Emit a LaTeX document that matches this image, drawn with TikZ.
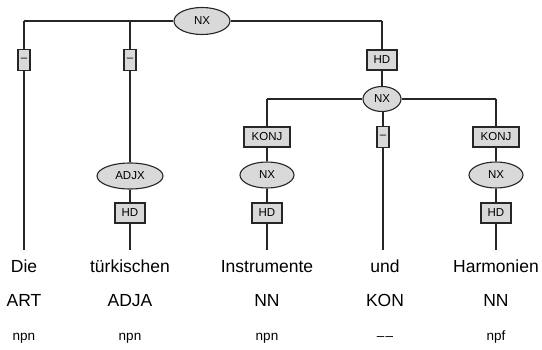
\documentclass[tikz,border=0pt]{standalone}
\usepackage{fontspec}
\setmainfont{Liberation Sans}
\usetikzlibrary{shapes.geometric}
\begin{document}
\begin{tikzpicture}[x=1pt,y={(0pt,-1pt)},
  edge/.style={line width=1.1pt,black!85},
  catnode/.style={ellipse,draw=black!85,line width=1.1pt,fill=black!15,inner sep=0pt,font=\fontsize{11.5}{12}\selectfont},
  funcbox/.style={rectangle,draw=black!85,line width=1.1pt,fill=black!15,inner sep=0pt,font=\fontsize{11.5}{12}\selectfont},
  word/.style={anchor=base,font=\fontsize{17.5}{20}\selectfont},
  tagtext/.style={anchor=base,font=\fontsize{17.5}{20}\selectfont},
  morph/.style={anchor=base,font=\fontsize{13.5}{14}\selectfont}]
\useasboundingbox (0,0) rectangle (542,350);
% top level
\node[catnode,minimum width=56pt,minimum height=27pt] (nx1) at (202,21) {NX};
\coordinate (t1) at (24,21);
\coordinate (t2) at (130,21);
\coordinate (t3) at (382,21);
\node[funcbox,minimum width=12pt,minimum height=21pt] (b1) at (24,60) {–};
\node[funcbox,minimum width=12pt,minimum height=21pt] (b2) at (130,60) {–};
\node[funcbox,minimum width=30pt,minimum height=20pt] (b3) at (382,60) {HD};
\node[catnode,minimum width=38pt,minimum height=25pt] (nx2) at (382,99) {NX};
% second level
\coordinate (s3) at (267,99);
\coordinate (s5) at (496,99);
\node[funcbox,minimum width=46pt,minimum height=20pt] (k3) at (267,137) {KONJ};
\node[funcbox,minimum width=12pt,minimum height=21pt] (b4) at (383,137) {–};
\node[funcbox,minimum width=46pt,minimum height=20pt] (k5) at (496,137) {KONJ};
% lower
\node[catnode,minimum width=66pt,minimum height=26pt] (adjx) at (130,176) {ADJX};
\node[catnode,minimum width=54pt,minimum height=26pt] (nx3) at (267,175) {NX};
\node[catnode,minimum width=54pt,minimum height=26pt] (nx5) at (496,175) {NX};
\node[funcbox,minimum width=30pt,minimum height=20pt] (h2) at (130,213) {HD};
\node[funcbox,minimum width=30pt,minimum height=20pt] (h3) at (267,213) {HD};
\node[funcbox,minimum width=30pt,minimum height=20pt] (h5) at (496,213) {HD};
% ends
\coordinate (e1) at (24,250);
\coordinate (e2) at (130,250);
\coordinate (e3) at (267,250);
\coordinate (e4) at (383,250);
\coordinate (e5) at (496,250);
% edges
\draw[edge] (t1) -- (nx1.west);
\draw[edge] (nx1.east) -- (t3);
\draw[edge] (t1) -- (b1.north);
\draw[edge] (b1.south) -- (e1);
\draw[edge] (t2) -- (b2.north);
\draw[edge] (b2.south) -- (adjx.north);
\draw[edge] (adjx.south) -- (h2.north);
\draw[edge] (h2.south) -- (e2);
\draw[edge] (t3) -- (b3.north);
\draw[edge] (b3.south) -- (nx2.north);
\draw[edge] (s3) -- (nx2.west);
\draw[edge] (nx2.east) -- (s5);
\draw[edge] (s3) -- (k3.north);
\draw[edge] (k3.south) -- (nx3.north);
\draw[edge] (nx3.south) -- (h3.north);
\draw[edge] (h3.south) -- (e3);
\draw[edge] (nx2.south -| b4.north) -- (b4.north);
\draw[edge] (b4.south) -- (e4);
\draw[edge] (s5) -- (k5.north);
\draw[edge] (k5.south) -- (nx5.north);
\draw[edge] (nx5.south) -- (h5.north);
\draw[edge] (h5.south) -- (e5);
% words
\node[word] (w1) at (24,273) {Die};
\node[word] (w2) at (130,273) {türkischen};
\node[word] (w3) at (267,273) {Instrumente};
\node[word] (w4) at (385,273) {und};
\node[word] (w5) at (496,273) {Harmonien};
\node[tagtext] (p1) at (24,307) {ART};
\node[tagtext] (p2) at (130,307) {ADJA};
\node[tagtext] (p3) at (267,307) {NN};
\node[tagtext] (p4) at (385,307) {KON};
\node[tagtext] (p5) at (496,307) {NN};
\node[morph] (m1) at (24,341) {npn};
\node[morph] (m2) at (130,341) {npn};
\node[morph] (m3) at (267,341) {npn};
\node[morph] (m4) at (385,341) {–\kern1.2pt–};
\node[morph] (m5) at (496,341) {npf};
\end{tikzpicture}
\end{document}
